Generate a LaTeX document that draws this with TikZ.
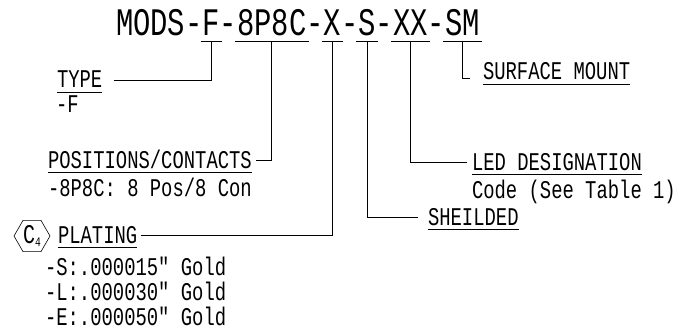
\documentclass[tikz,border=0pt]{standalone}
\usepackage{fontspec}
\newfontfamily\cadfont[FakeStretch=0.74]{Liberation Mono}
\newfontfamily\cadtitle[FakeStretch=0.74]{Liberation Mono}
\usetikzlibrary{calc,positioning,shapes.geometric}

\begin{document}
\begin{tikzpicture}[x=1pt, y=-1pt, line width=0.8pt,
  every node/.style={inner sep=0pt, outer sep=0pt},
  ttl/.style={font=\cadtitle\fontsize{39}{39}\selectfont, anchor=base west},
  lbl/.style={font=\cadfont\fontsize{25.5}{25.5}\selectfont, anchor=base west, text height=15pt, text depth=0pt}]
\useasboundingbox (0,0) rectangle (688,334);
% part number, one node per field
\node[ttl] (tA) at (116,36) {MODS-};
\node[ttl] (tF) at (tA.base east) {F};
\node[ttl] (d1) at (tF.base east) {-};
\node[ttl] (tP) at (d1.base east) {8P8C};
\node[ttl] (d2) at (tP.base east) {-};
\node[ttl] (tX) at (d2.base east) {X};
\node[ttl] (d3) at (tX.base east) {-};
\node[ttl] (tS) at (d3.base east) {S};
\node[ttl] (d4) at (tS.base east) {-};
\node[ttl] (tXX) at (d4.base east) {XX};
\node[ttl] (d5) at (tXX.base east) {-};
\node[ttl] (tSM) at (d5.base east) {SM};
\foreach \n in {tF,tP,tX,tS,tXX,tSM} \draw ([shift={(-2pt,-5pt)}]\n.base west) -- ([shift={(2pt,-5pt)}]\n.base east);
% field labels
\node[lbl] (typ) at (57,88) {TYPE};
\node[lbl] (typv) at (56,113) {-F};
\node[lbl] (pos) at (48,168) {POSITIONS/CONTACTS};
\node[lbl] (posv) at (48,196) {-8P8C: 8 Pos/8 Con};
\node[lbl] (plt) at (58,243) {PLATING};
\node[lbl] (pltS) at (45,275) {-S:.000015" Gold};
\node[lbl] (pltL) at (45,300) {-L:.000030" Gold};
\node[lbl] (pltE) at (45,325) {-E:.000050" Gold};
\node[draw, line width=0.6pt, regular polygon, regular polygon sides=6, minimum size=36pt, font=\cadfont\fontsize{27}{27}\selectfont] (hex) at (32,236) {C\raisebox{-3pt}{\fontsize{13}{13}\selectfont 4}};
\node[lbl] (smt) at (483,80) {SURFACE MOUNT};
\node[lbl] (led) at (472,170) {LED DESIGNATION};
\node[lbl] (ledv) at (472,198) {Code (See Table 1)};
\node[lbl] (shd) at (428,225) {SHEILDED};
\foreach \n in {typ,pos,plt,smt,led,shd} \draw ([yshift=-4pt]\n.base west) -- ([yshift=-4pt]\n.base east);
% leaders
\draw ([yshift=-5pt]tF.base) |- ([xshift=12pt]typ.east);
\draw ([yshift=-5pt]tP.base) |- ([xshift=4pt]pos.east);
\draw ([yshift=-5pt]tX.base) |- ([xshift=4pt]plt.east);
\draw ([yshift=-5pt]tS.base) |- ([xshift=-10pt]shd.west);
\draw ([yshift=-5pt]tXX.base) |- ([xshift=-5pt]led.west);
\draw ([yshift=-5pt]tSM.base) |- ([shift={(-13pt,2pt)}]smt.base west);
\end{tikzpicture}
\end{document}
